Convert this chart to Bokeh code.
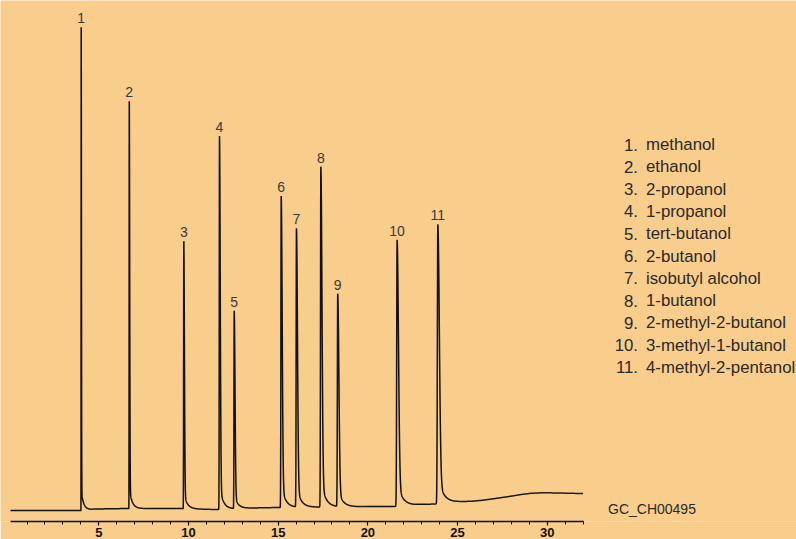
import numpy as np
from bokeh.plotting import figure
from bokeh.models import Range1d, SingleIntervalTicker, ColumnDataSource
from bokeh.core.properties import value
from bokeh.embed import file_html
from bokeh.resources import INLINE

# ---- peak table: retention time (min) and height above baseline (response units)
peak_ids = ["1", "2", "3", "4", "5", "6", "7", "8", "9", "10", "11"]
retention_min = [4.02, 6.70, 9.74, 11.73, 12.55, 15.17, 16.02, 17.38, 18.32, 21.63, 23.90]
peak_height = [484, 408, 268, 374, 198, 312, 279, 341, 213, 267, 280]
compound_names = [
    "methanol", "ethanol", "2-propanol", "1-propanol", "tert-butanol",
    "2-butanol", "isobutyl alcohol", "1-butanol", "2-methyl-2-butanol",
    "3-methyl-1-butanol", "4-methyl-2-pentanol",
]

# ---- detector baseline drift (time in min, level in response units)
baseline_time = [0.08, 3.98, 4.8, 6.5, 9.55, 11.5, 13.5, 14.9, 19.0, 21.4,
                 22.9, 23.7, 24.9, 25.8, 26.4, 27.2, 27.95, 28.6, 29.1,
                 29.7, 30.2, 31.0, 32.0]
baseline_level = [11.0, 11.0, 12.5, 13.0, 13.0, 12.0, 13.5, 14.0, 14.8, 15.0,
                  17.0, 17.5, 19.5, 20.3, 21.3, 23.3, 25.3, 27.2, 28.3,
                  28.8, 28.7, 28.4, 28.0]

tick_values = [5, 10, 15, 20, 25, 30]
sample_code = "GC_CH00495"

# ---- page geometry (pixels)
W, H = 796, 539
PX_PER_MIN = 17.94
T_AXIS_START, T_AXIS_END = 0.08, 32.0
AXIS_LEFT_PX = 10
T_LEFT = T_AXIS_START - AXIS_LEFT_PX / PX_PER_MIN
T_RIGHT = T_LEFT + W / PX_PER_MIN
FRAME_H = 522
BG = "#F9CD8C"
FONT = value("Liberation Sans")


def px_to_t(px):
    return T_LEFT + px / PX_PER_MIN


def py_to_y(py):
    return FRAME_H - py


# ---- build the detector trace from the peak table
t = np.arange(T_AXIS_START, T_AXIS_END, 0.002)
t = np.unique(np.concatenate([t, retention_min]))
signal = np.interp(t, baseline_time, baseline_level)
for tr, h in zip(retention_min, peak_height):
    sig_r = 0.0035 * tr
    sig_l = 0.3 * sig_r
    tail_frac = 0.03 + 0.003 * tr
    tau_tail = 0.1 + 0.008 * tr
    dt = t - tr
    front = np.exp(-0.5 * (dt / sig_l) ** 2)
    back = (1 - tail_frac) * np.exp(-0.5 * (dt / sig_r) ** 2) + \
        tail_frac * np.exp(-np.clip(dt, 0, None) / tau_tail)
    signal += h * np.where(dt < 0, front, back)

p = figure(
    width=W, height=H,
    x_range=Range1d(T_LEFT, T_RIGHT), y_range=Range1d(0, FRAME_H),
    output_backend="svg", toolbar_location=None,
    y_axis_location=None,
    min_border_left=0, min_border_right=0, min_border_top=0, min_border_bottom=17,
    background_fill_color=BG, border_fill_color=BG, outline_line_color=None,
)
p.grid.visible = False

p.line(t, signal, line_color="#111111", line_width=1.5)

# peak numbers above each apex
apex_idx = [int(np.argmin(np.abs(t - tr))) for tr in retention_min]
apex_y = [float(signal[i]) for i in apex_idx]
p.text(x=retention_min, y=[a + 9.0 for a in apex_y], text=peak_ids,
       text_align="center", text_baseline="middle",
       text_font=FONT, text_font_size="14px", text_color="#3a3a3a")

# compound list on the right
row_py = [144.5 + i * 22.3 for i in range(len(compound_names))]
legend_src = ColumnDataSource(dict(
    xn=[px_to_t(637.5)] * len(compound_names),
    xt=[px_to_t(645.5)] * len(compound_names),
    y=[py_to_y(v) for v in row_py],
    num=[f"{pid}." for pid in peak_ids],
    name=compound_names,
))
p.text(x="xn", y="y", text="num", source=legend_src, text_align="right",
       text_baseline="middle", text_font=FONT,
       text_font_size="16.8px", text_color="#2a2a2a")
p.text(x="xt", y="y", text="name", source=legend_src, text_align="left",
       text_baseline="middle", text_font=FONT,
       text_font_size="16.8px", text_color="#2a2a2a")

p.text(x=[px_to_t(607.5)], y=[py_to_y(509.0)], text=[sample_code],
       text_align="left", text_baseline="middle",
       text_font=FONT, text_font_size="14px", text_color="#2a2a2a")

# time axis
ax = p.xaxis[0]
ax.ticker = SingleIntervalTicker(interval=5, num_minor_ticks=5)
ax.bounds = (T_AXIS_START, T_AXIS_END)
ax.axis_line_width = 1.6
ax.axis_line_color = "#111111"
ax.major_tick_in = 0
ax.major_tick_out = 4
ax.major_tick_line_width = 1.2
ax.minor_tick_in = 0
ax.minor_tick_out = 3
ax.minor_tick_line_width = 1.0
ax.major_label_standoff = 2
ax.major_label_text_font = "Liberation Sans"
ax.major_label_text_font_style = "bold"
ax.major_label_text_font_size = "13px"
ax.major_label_text_color = "#111111"

open("out.html", "w").write(file_html(p, INLINE))
